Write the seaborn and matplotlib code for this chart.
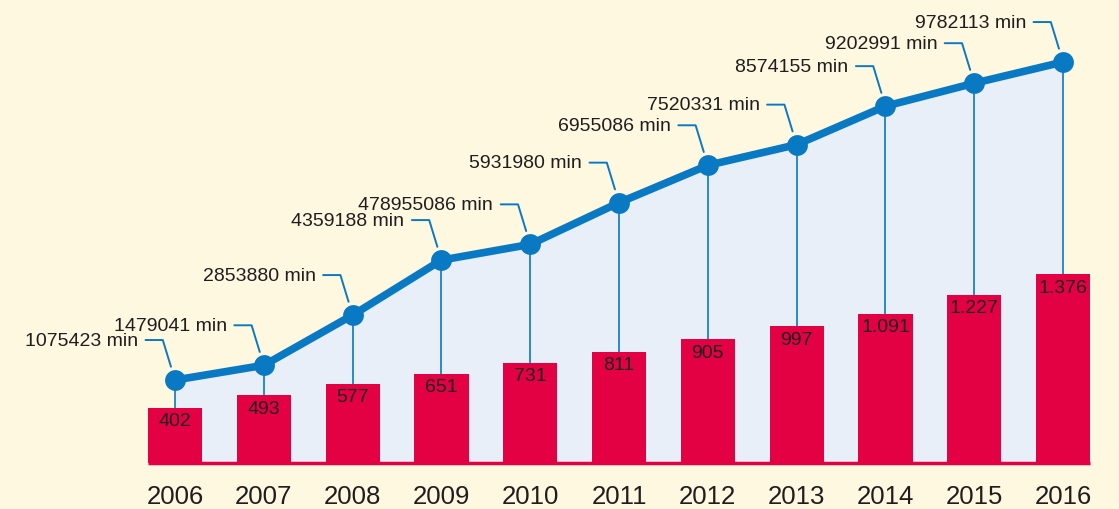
import matplotlib
matplotlib.use("Agg")
import numpy as np
import pandas as pd
import seaborn as sns
import matplotlib.pyplot as plt

# ---- data ----
years = ["2006", "2007", "2008", "2009", "2010", "2011", "2012", "2013", "2014", "2015", "2016"]
users = [402, 493, 577, 651, 731, 811, 905, 997, 1091, 1227, 1376]
user_labels = ["402", "493", "577", "651", "731", "811", "905", "997", "1.091", "1.227", "1.376"]
minutes = [1075423, 1479041, 2853880, 4359188, 4789550, 5931980, 6955086, 7520331, 8574155, 9202991, 9782113]
minute_labels = ["1075423 min", "1479041 min", "2853880 min", "4359188 min", "478955086 min",
                 "5931980 min", "6955086 min", "7520331 min", "8574155 min", "9202991 min", "9782113 min"]

BG = "#FFF8E1"
RED = "#E30043"
BLUE = "#0A79C4"
FILL = "#E8EFF9"
TXT = "#1E1E1E"

sns.set_theme(style="white")
plt.rcParams["font.family"] = ["Liberation Sans", "DejaVu Sans"]

df = pd.DataFrame({"year": years, "users": users, "minutes": minutes})
pos = np.arange(len(years))

fig = plt.figure(figsize=(11.19, 5.10), dpi=100, facecolor=BG)
ax1 = fig.add_axes([0, 46 / 510, 1, 464 / 510])
ax2 = ax1.twinx()
ax1.set_zorder(2)
ax2.set_zorder(1)
ax1.patch.set_visible(False)
ax2.patch.set_visible(False)

Y2MIN, Y2MAX = -1196600, 11508000

# area, drop lines, line
ax2.fill_between(pos, minutes, Y2MIN, color=FILL, lw=0, zorder=1)
ax2.vlines(pos, Y2MIN, minutes, color=BLUE, lw=1.2, zorder=2)
sns.lineplot(x=pos, y=minutes, ax=ax2, color=BLUE, lw=5.5, marker="o",
             markersize=15, markeredgewidth=0, zorder=3)

for i, (m, lab) in enumerate(zip(minutes, minute_labels)):
    ax2.annotate(lab, xy=(i, m), xytext=(-37, 40), textcoords="offset pixels",
                 ha="right", va="center", fontsize=14, color=TXT,
                 arrowprops=dict(arrowstyle="-", color=BLUE, lw=1.4, shrinkA=3, shrinkB=10,
                                 relpos=(1, 0.5),
                                 connectionstyle="angle,angleA=0,angleB=107,rad=0"))

# bars
sns.barplot(data=df, x="year", y="users", ax=ax1, color=RED, saturation=1,
            width=0.61, linewidth=0, zorder=3)
ax1.hlines(0, -0.305, 10.305, color=RED, lw=2.5, zorder=2, clip_on=False)
for i, (u, lab) in enumerate(zip(users, user_labels)):
    ax1.annotate(lab, xy=(i, u), xytext=(0, -13), textcoords="offset pixels",
                 ha="center", va="center", fontsize=14, color=TXT, zorder=4)

ax1.set_xlim(-1.971, 10.63)
ax1.set_ylim(0, 3387)
ax2.set_ylim(Y2MIN, Y2MAX)

ax1.set_xticks(pos)
ax1.set_xticklabels(years, fontsize=18.5, color=TXT)
ax1.tick_params(axis="x", length=0, pad=15)
ax1.set_yticks([])
ax2.set_yticks([])
ax1.set_xlabel("")
ax1.set_ylabel("")
ax2.set_ylabel("")
for a in (ax1, ax2):
    for s in a.spines.values():
        s.set_visible(False)

fig.savefig("out.png", dpi=100, facecolor=BG)
